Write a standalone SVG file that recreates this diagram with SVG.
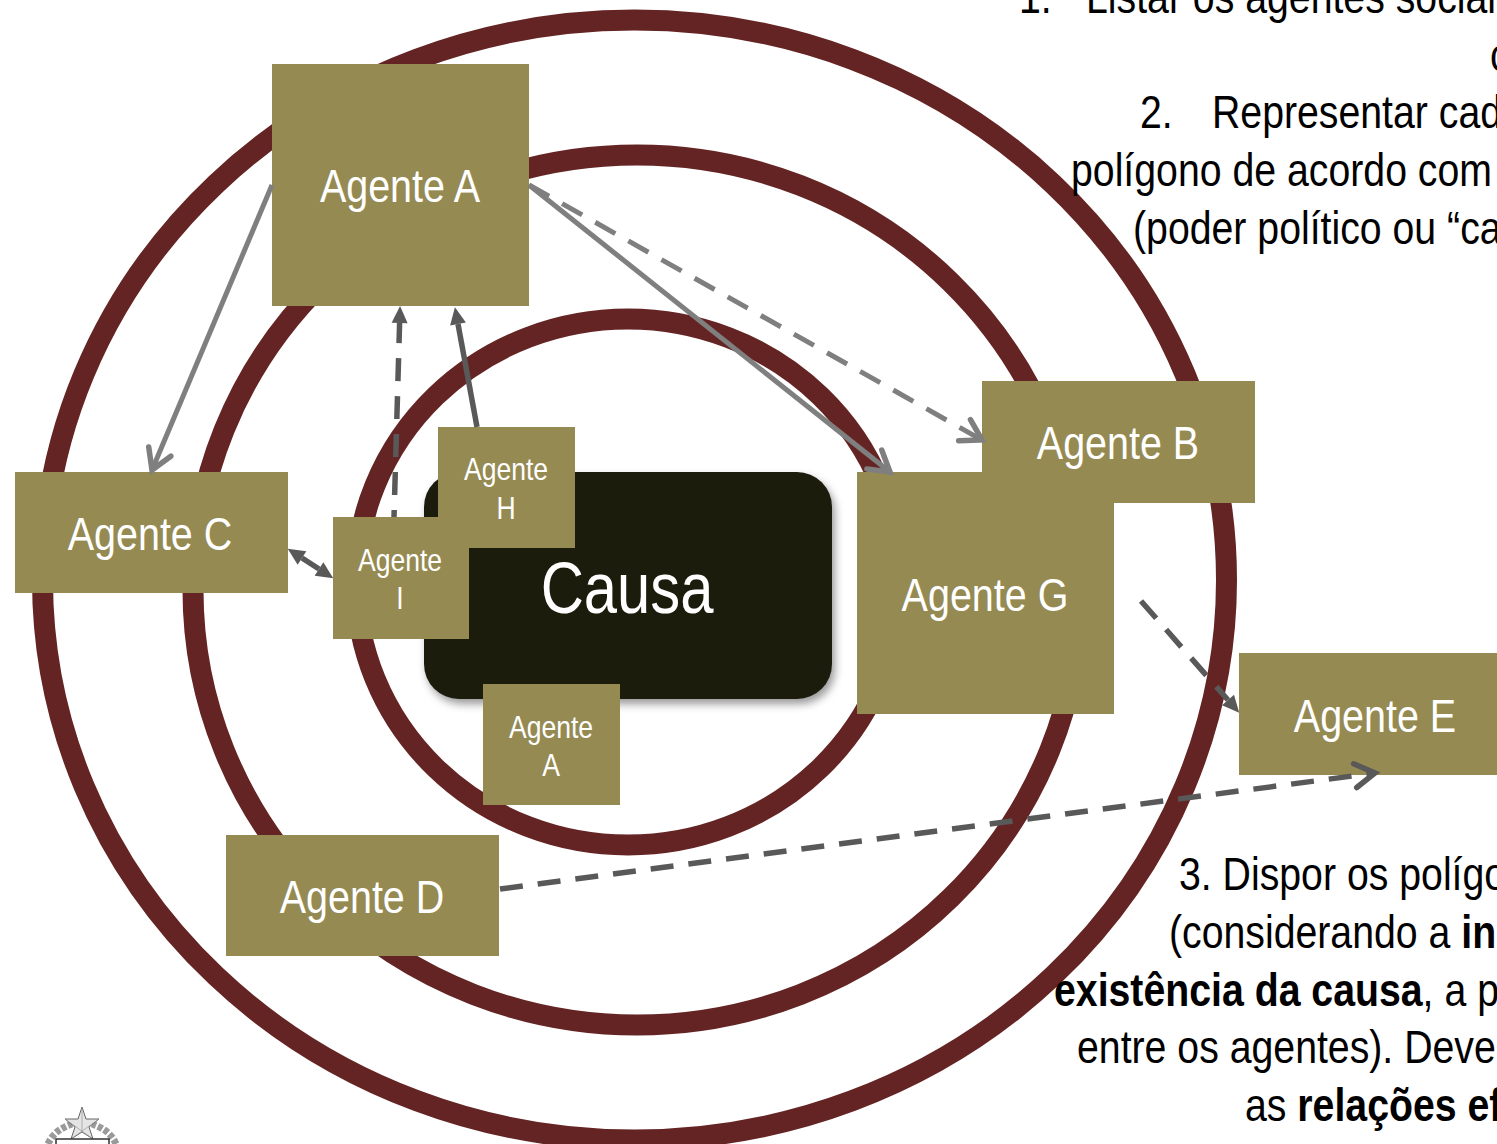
<svg xmlns="http://www.w3.org/2000/svg" width="1497" height="1144" viewBox="0 0 1497 1144">
<style>
text{font-family:"Liberation Sans",Arial,sans-serif}
.ring{fill:none;stroke:#642423;stroke-width:21}
.box{fill:#968a53}
.big{fill:#fff;font-size:47px;text-anchor:middle}
.small{fill:#fff;font-size:32px;text-anchor:middle}
.body{fill:#000;font-size:46px}
.b{font-weight:bold}
.lg{fill:none;stroke:#7f7f7f;stroke-width:5}
.dk{fill:none;stroke:#595959;stroke-width:5.5}
.dash{stroke-dasharray:23 15}
</style>
<defs>
<filter id="sh" x="-10%" y="-10%" width="120%" height="125%"><feDropShadow dx="3" dy="5" stdDeviation="4" flood-color="#000" flood-opacity=".4"/></filter>
<marker id="openL" markerUnits="userSpaceOnUse" markerWidth="34" markerHeight="34" refX="28" refY="17" orient="auto"><path d="M8 5L28 17L8 29" fill="none" stroke="#7f7f7f" stroke-width="5.5" stroke-linecap="round"/></marker>
<marker id="openD" markerUnits="userSpaceOnUse" markerWidth="34" markerHeight="34" refX="28" refY="17" orient="auto"><path d="M8 5L28 17L8 29" fill="none" stroke="#595959" stroke-width="5.5" stroke-linecap="round"/></marker>
<marker id="tri" markerUnits="userSpaceOnUse" markerWidth="20" markerHeight="20" refX="1" refY="10" orient="auto"><path d="M1 2L18 10L1 18Z" fill="#595959"/></marker>
<marker id="triS" markerUnits="userSpaceOnUse" markerWidth="20" markerHeight="20" refX="19" refY="10" orient="auto"><path d="M19 2L2 10L19 18Z" fill="#595959"/></marker>
</defs>
<rect width="1497" height="1144" fill="#fff"/>
<g id="rings">
<ellipse class="ring" cx="634.5" cy="580" rx="592" ry="560"/>
<ellipse class="ring" cx="637" cy="590" rx="444" ry="435"/>
<ellipse class="ring" cx="628" cy="582" rx="272" ry="263"/>
</g>
<g id="logo">
<path d="M48 1144Q54 1130 72 1124M116 1144Q110 1130 92 1124" fill="none" stroke="#9a9a9a" stroke-width="7" stroke-dasharray="5 2"/>
<path d="M82 1107L86 1119L99 1119L89 1127L93 1139L82 1132L71 1139L75 1127L65 1119L78 1119Z" fill="#e4e4e4" stroke="#666" stroke-width="1"/>
<path d="M82 1107V1132M65 1119L93 1139M99 1119L71 1139" fill="none" stroke="#999" stroke-width=".7"/>
<rect x="56" y="1139" width="53" height="8" fill="#fff" stroke="#333" stroke-width="1.5"/>
</g>
<g id="causa"><rect x="424" y="472" width="408" height="227" rx="35" fill="#1f1c11" filter="url(#sh)"/><text transform="translate(627 613) scale(.83 1)" fill="#fff" font-size="72" text-anchor="middle">Causa</text></g>
<g id="agente-a"><rect class="box" x="272" y="64" width="257" height="242"/><text class="big" transform="translate(400 202) scale(.84 1)">Agente A</text></g>
<g id="agente-b"><rect class="box" x="982" y="381" width="273" height="122"/><text class="big" transform="translate(1118 459) scale(.84 1)">Agente B</text></g>
<g id="agente-c"><rect class="box" x="15" y="472" width="273" height="121"/><text class="big" transform="translate(150 550) scale(.84 1)">Agente C</text></g>
<g id="agente-d"><rect class="box" x="226" y="835" width="273" height="121"/><text class="big" transform="translate(362 913) scale(.84 1)">Agente D</text></g>
<g id="agente-e"><rect class="box" x="1239" y="653" width="258" height="122"/><text class="big" transform="translate(1375 732) scale(.84 1)">Agente E</text></g>
<g id="agente-g"><rect class="box" x="857" y="472" width="257" height="242"/><text class="big" transform="translate(985 611) scale(.84 1)">Agente G</text></g>
<g id="agente-h"><rect class="box" x="438" y="427" width="137" height="121"/><text class="small" transform="translate(506 480) scale(.83 1)">Agente</text><text class="small" transform="translate(506 519) scale(.83 1)">H</text></g>
<g id="agente-i"><rect class="box" x="333" y="517" width="136" height="122"/><text class="small" transform="translate(400 571) scale(.83 1)">Agente</text><text class="small" transform="translate(400 609) scale(.83 1)">I</text></g>
<g id="agente-a2"><rect class="box" x="483" y="684" width="137" height="121"/><text class="small" transform="translate(551 738) scale(.83 1)">Agente</text><text class="small" transform="translate(551 776) scale(.83 1)">A</text></g>
<g id="connectors">
<path class="lg" d="M272 185L152 470" marker-end="url(#openL)"/>
<path class="lg" d="M529 185L890 472" marker-end="url(#openL)"/>
<path class="lg dash" d="M529 185L982 440" marker-end="url(#openL)"/>
<path class="dk dash" d="M394 517L399.6 323" stroke-dashoffset="16" marker-end="url(#tri)"/>
<path class="dk" d="M477 427L458 324" marker-end="url(#tri)"/>
<path class="dk" d="M302 558L319 569" marker-start="url(#triS)" marker-end="url(#tri)"/>
<path class="dk dash" d="M1141 601L1228 700" marker-end="url(#tri)"/>
<path class="dk dash" d="M500 889L1375 773" marker-end="url(#openD)"/>
</g>
<g id="texto">
<text class="body" transform="translate(1019 13) scale(.853 1)">1.</text>
<text class="body" transform="translate(1086 13) scale(.853 1)">Listar os agentes sociai</text>
<text class="body" transform="translate(1490 71) scale(.853 1)">c</text>
<text class="body" transform="translate(1140 128) scale(.853 1)">2.</text>
<text class="body" transform="translate(1212 128) scale(.853 1)">Representar cad</text>
<text class="body" transform="translate(1071 186) scale(.853 1)">polígono de acordo com</text>
<text class="body" transform="translate(1133 244) scale(.853 1)">(poder político ou “ca</text>
<text class="body" transform="translate(1496 302) scale(.853 1)">c</text>
<text class="body" transform="translate(1179 890) scale(.853 1)">3. Dispor os polígo</text>
<text class="body" transform="translate(1169 948) scale(.853 1)">(considerando a <tspan class="b">in</tspan></text>
<text class="body" transform="translate(1054 1006) scale(.853 1)"><tspan class="b">existência da causa</tspan>, a p</text>
<text class="body" transform="translate(1077 1063) scale(.853 1)">entre os agentes). Deve</text>
<text class="body" transform="translate(1245 1121) scale(.853 1)">as <tspan class="b">relações ef</tspan></text>
</g>
</svg>
